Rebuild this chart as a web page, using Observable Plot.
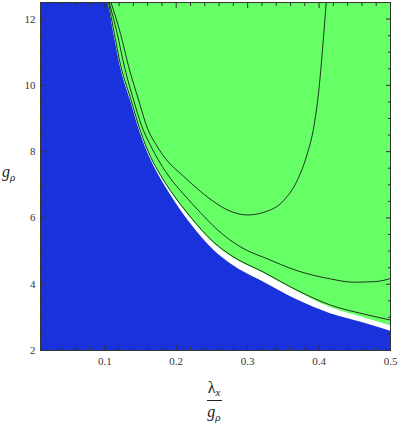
<!DOCTYPE html>
<html>
<head>
<meta charset="utf-8">
<script src="https://cdn.jsdelivr.net/npm/d3@7"></script>
<script src="https://cdn.jsdelivr.net/npm/@observablehq/plot@0.6"></script>
<style>
  html, body { margin: 0; padding: 0; background: #fff; }
  #chart svg { display: block; }
  #chart svg text, #chart svg tspan { font-family: "Liberation Serif", "Times New Roman", serif !important; }
</style>
</head>
<body>
<div id="chart"></div>
<script>
// Blue region: upper edge
const blueX = [0.01, 0.1038, 0.1126, 0.122, 0.136, 0.150, 0.164, 0.178, 0.192, 0.206, 0.220, 0.253, 0.276, 0.3226, 0.369, 0.416, 0.4626, 0.5];
const blueY = [12.5, 12.5, 11.56, 10.55, 9.54, 8.54, 7.78, 7.20, 6.70, 6.24, 5.83, 5.02, 4.62, 4.06, 3.53, 3.11, 2.83, 2.58];
// Green region: lower edge
const greenX = [0.1045, 0.1126, 0.122, 0.136, 0.150, 0.164, 0.178, 0.192, 0.206, 0.220, 0.253, 0.276, 0.3226, 0.369, 0.416, 0.4626, 0.5];
const greenY = [12.5, 11.62, 10.60, 9.59, 8.59, 7.83, 7.27, 6.80, 6.38, 6.00, 5.22, 4.84, 4.32, 3.78, 3.30, 2.99, 2.75];
// Contour lines
const line1X = [0.1052, 0.1126, 0.122, 0.136, 0.150, 0.164, 0.178, 0.192, 0.206, 0.220, 0.253, 0.276, 0.3226, 0.369, 0.416, 0.4626, 0.5];
const line1Y = [12.5, 11.64, 10.62, 9.61, 8.61, 7.85, 7.29, 6.82, 6.41, 6.03, 5.26, 4.88, 4.36, 3.82, 3.37, 3.10, 2.92];
const line2X = [0.1063, 0.1174, 0.1276, 0.1406, 0.1514, 0.164, 0.178, 0.192, 0.2106, 0.234, 0.2574, 0.2802, 0.304, 0.3226, 0.369, 0.416, 0.4486, 0.479, 0.5];
const line2Y = [12.5, 11.56, 10.55, 9.54, 8.79, 8.19, 7.64, 7.19, 6.71, 6.16, 5.65, 5.26, 4.97, 4.81, 4.41, 4.16, 4.06, 4.08, 4.17];
const line3X = [0.1087, 0.122, 0.1336, 0.1476, 0.1598, 0.1724, 0.185, 0.2106, 0.234, 0.2574, 0.2718, 0.2998, 0.3226, 0.3506, 0.3694, 0.3834, 0.3926, 0.3996, 0.4066, 0.41];
const line3Y = [12.5, 11.56, 10.55, 9.54, 8.70, 8.19, 7.79, 7.25, 6.80, 6.42, 6.24, 6.09, 6.17, 6.53, 7.13, 7.93, 8.74, 9.84, 11.56, 12.5];
// Ticks
const xMajor = [0.1, 0.2, 0.3, 0.4, 0.5];
const xMinor = [0.02, 0.04, 0.06, 0.08, 0.12, 0.14, 0.16, 0.18, 0.22, 0.24, 0.26, 0.28, 0.32, 0.34, 0.36, 0.38, 0.42, 0.44, 0.46, 0.48];
const yMajor = [2, 4, 6, 8, 10, 12];
const yMinor = [2.5, 3, 3.5, 4.5, 5, 5.5, 6.5, 7, 7.5, 8.5, 9, 9.5, 10.5, 11, 11.5, 12.5];

const BLUE = "#1932DB";
const GREEN = "#66FF66";
const INK = "#333";

const zip = (xs, ys) => xs.map((x, i) => ({x, y: ys[i]}));
const blue = zip(blueX, blueY);
const green = zip(greenX, greenY);
const lines = [zip(line1X, line1Y), zip(line2X, line2Y), zip(line3X, line3Y)];

const plot = Plot.plot({
  width: 398,
  height: 427,
  marginLeft: 40,
  marginRight: 8,
  marginTop: 2,
  marginBottom: 77,
  style: {fontFamily: "'Liberation Serif', 'Times New Roman', serif", fontSize: "11px", color: INK, background: "#fff"},
  x: {domain: [0.01, 0.5], label: null},
  y: {domain: [2, 12.5], label: null},
  marks: [
    Plot.areaY(blue, {x: "x", y1: 2, y2: "y", fill: BLUE, curve: "monotone-x", clip: true}),
    Plot.areaY(green, {x: "x", y1: "y", y2: 12.5, fill: GREEN, curve: "monotone-x", clip: true}),
    ...lines.map(l => Plot.line(l, {x: "x", y: "y", stroke: "#111", strokeWidth: 0.85, curve: "monotone-x", clip: true})),
    // tick labels
    Plot.axisX(xMajor, {anchor: "bottom", tickSize: 0, tickPadding: 7, label: null, fill: INK}),
    Plot.axisY(yMajor, {anchor: "left", tickSize: 0, tickPadding: 5, label: null, fill: INK}),
    // inward ticks
    Plot.axisX(xMajor, {anchor: "bottom", tickSize: -5, tickFormat: () => "", label: null, stroke: INK}),
    Plot.axisX(xMinor, {anchor: "bottom", tickSize: -3, tickFormat: () => "", label: null, stroke: INK}),
    Plot.axisX(xMajor, {anchor: "top", tickSize: -5, tickFormat: () => "", label: null, stroke: INK}),
    Plot.axisX(xMinor, {anchor: "top", tickSize: -3, tickFormat: () => "", label: null, stroke: INK}),
    Plot.axisY(yMajor, {anchor: "left", tickSize: -5, tickFormat: () => "", label: null, stroke: INK}),
    Plot.axisY(yMinor, {anchor: "left", tickSize: -3, tickFormat: () => "", label: null, stroke: INK}),
    Plot.axisY(yMajor, {anchor: "right", tickSize: -5, tickFormat: () => "", label: null, stroke: INK}),
    Plot.axisY(yMinor, {anchor: "right", tickSize: -3, tickFormat: () => "", label: null, stroke: INK}),
    Plot.frame({stroke: INK, strokeWidth: 1})
  ]
});

const svg = d3.select(plot);
// y-axis label g_rho
const yl = svg.append("text").attr("x", 2).attr("y", 177).attr("text-anchor", "start")
  .attr("font-size", 16).attr("fill", "#222");
yl.append("tspan").attr("font-style", "italic").text("g");
yl.append("tspan").attr("font-style", "italic").attr("font-size", 11).attr("dy", 4).text("ρ");
// x-axis label lambda_x / g_rho
const xl = svg.append("text").attr("x", 214).attr("y", 393).attr("text-anchor", "middle")
  .attr("font-size", 16).attr("fill", "#222");
xl.append("tspan").text("λ");
xl.append("tspan").attr("font-style", "italic").attr("font-size", 11).attr("dy", 3).text("x");
svg.append("line").attr("x1", 207).attr("x2", 222).attr("y1", 400.5).attr("y2", 400.5)
  .attr("stroke", "#222").attr("stroke-width", 1);
const gl = svg.append("text").attr("x", 214).attr("y", 417).attr("text-anchor", "middle")
  .attr("font-size", 16).attr("fill", "#222");
gl.append("tspan").attr("font-style", "italic").text("g");
gl.append("tspan").attr("font-style", "italic").attr("font-size", 11).attr("dy", 4).text("ρ");

document.getElementById("chart").appendChild(plot);
</script>
</body>
</html>
